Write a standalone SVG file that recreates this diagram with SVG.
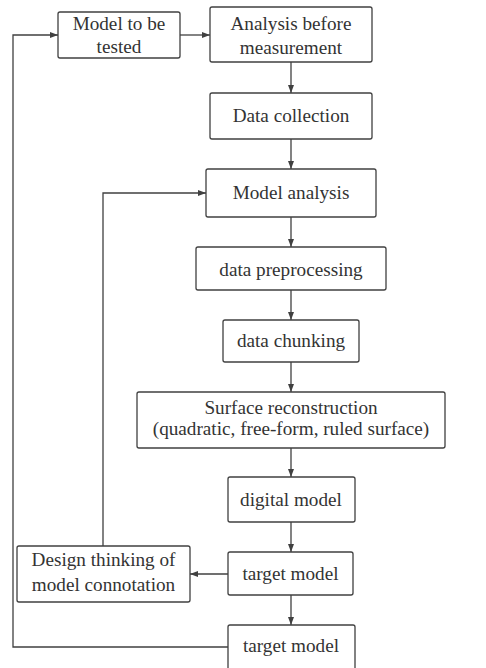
<svg xmlns="http://www.w3.org/2000/svg" width="486" height="668" viewBox="0 0 486 668">
  <style>
    .box { fill: #ffffff; stroke: #404040; stroke-width: 1.3; }
    .lbl { font-family: 'Liberation Serif', 'Times New Roman', serif; font-size: 19.2px; fill: #333333; text-anchor: middle; }
    .wire { fill: none; stroke: #404040; stroke-width: 1.3; }
  </style>
  <defs>
    <marker id="arrow" markerUnits="userSpaceOnUse" markerWidth="8" markerHeight="6" refX="8" refY="3" orient="auto">
      <path d="M0,0 L8,3 L0,6 z" fill="#404040"/>
    </marker>
  </defs>

  <rect width="486" height="668" fill="#ffffff"/>

  <!-- connectors -->
  <g id="connectors">
    <line class="wire" x1="180" y1="35" x2="210" y2="35" marker-end="url(#arrow)"/>
    <polyline class="wire" points="228,647 13,647 13,35 58,35" marker-end="url(#arrow)"/>
    <line class="wire" x1="291" y1="62" x2="291" y2="93" marker-end="url(#arrow)"/>
    <line class="wire" x1="291" y1="139" x2="291" y2="169" marker-end="url(#arrow)"/>
    <line class="wire" x1="291" y1="217" x2="291" y2="247" marker-end="url(#arrow)"/>
    <line class="wire" x1="291" y1="290" x2="291" y2="320" marker-end="url(#arrow)"/>
    <line class="wire" x1="291" y1="362" x2="291" y2="392" marker-end="url(#arrow)"/>
    <line class="wire" x1="291" y1="448" x2="291" y2="477" marker-end="url(#arrow)"/>
    <line class="wire" x1="291" y1="522" x2="291" y2="552" marker-end="url(#arrow)"/>
    <line class="wire" x1="291" y1="595" x2="291" y2="625" marker-end="url(#arrow)"/>
    <line class="wire" x1="228" y1="574" x2="190" y2="574" marker-end="url(#arrow)"/>
    <polyline class="wire" points="103,546 103,193 206,193" marker-end="url(#arrow)"/>
  </g>

  <!-- nodes -->
  <g id="model-to-be-tested">
    <rect class="box" x="58" y="12" width="122" height="46" rx="2"/>
    <text class="lbl" x="119" y="30">Model to be</text>
    <text class="lbl" x="119" y="53">tested</text>
  </g>
  <g id="analysis-before-measurement">
    <rect class="box" x="210" y="7" width="162" height="55" rx="2"/>
    <text class="lbl" x="291" y="30">Analysis before</text>
    <text class="lbl" x="291" y="54">measurement</text>
  </g>
  <g id="data-collection">
    <rect class="box" x="210" y="93" width="162" height="46" rx="2"/>
    <text class="lbl" x="291" y="122">Data collection</text>
  </g>
  <g id="model-analysis">
    <rect class="box" x="206" y="169" width="170" height="48" rx="2"/>
    <text class="lbl" x="291" y="199">Model analysis</text>
  </g>
  <g id="data-preprocessing">
    <rect class="box" x="196" y="247" width="190" height="43" rx="2"/>
    <text class="lbl" x="291" y="275.5">data preprocessing</text>
  </g>
  <g id="data-chunking">
    <rect class="box" x="223" y="320" width="136" height="42" rx="2"/>
    <text class="lbl" x="291" y="346.5">data chunking</text>
  </g>
  <g id="surface-reconstruction">
    <rect class="box" x="137" y="392" width="308" height="56" rx="2"/>
    <text class="lbl" x="291" y="413.5">Surface reconstruction</text>
    <text class="lbl" x="291" y="435">(quadratic, free-form, ruled surface)</text>
  </g>
  <g id="digital-model">
    <rect class="box" x="228" y="477" width="127" height="45" rx="2"/>
    <text class="lbl" x="291" y="505.5">digital model</text>
  </g>
  <g id="target-model-1">
    <rect class="box" x="228" y="552" width="125" height="43" rx="2"/>
    <text class="lbl" x="290.5" y="580">target model</text>
  </g>
  <g id="design-thinking">
    <rect class="box" x="17" y="546" width="173" height="56" rx="2"/>
    <text class="lbl" x="103.5" y="566">Design thinking of</text>
    <text class="lbl" x="103.5" y="591">model connotation</text>
  </g>
  <g id="target-model-2">
    <rect class="box" x="228" y="625" width="127" height="50" rx="2"/>
    <text class="lbl" x="291" y="651.5">target model</text>
  </g>
</svg>
